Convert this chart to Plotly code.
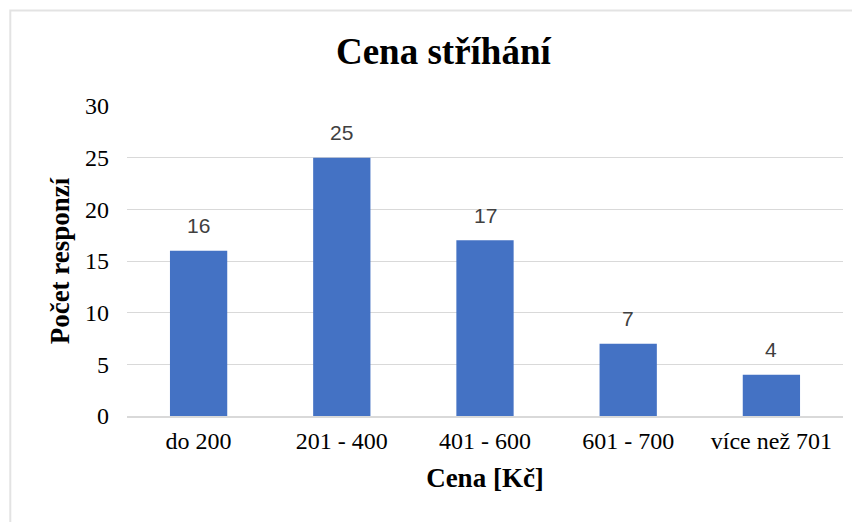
import plotly.graph_objects as go

categories = ["do 200", "201 - 400", "401 - 600", "601 - 700", "více než 701"]
counts = [16, 25, 17, 7, 4]
y_ticks = [0, 5, 10, 15, 20, 25, 30]

serif = "Liberation Serif, Times New Roman, serif"
sans = "Liberation Sans, Arial, sans-serif"

fig = go.Figure()
fig.add_trace(go.Bar(x=categories, y=counts, marker_color="#4472C4", marker_line_width=0,
                     hoverinfo="skip"))

# data labels above bars
for c, v in zip(categories, counts):
    fig.add_annotation(x=c, y=v, text=str(v), showarrow=False, yshift=25,
                       font=dict(family=sans, size=21, color="#404040"))

fig.update_layout(
    width=852, height=514,
    margin=dict(l=119, r=17, t=98, b=106),
    paper_bgcolor="white", plot_bgcolor="white",
    bargap=0.6,
    showlegend=False,
    title=dict(text="<b>Cena stříhání</b>", x=0.511, xanchor="center", y=0.916, yanchor="middle",
               xref="container", font=dict(family=serif, size=37, color="black")),
    xaxis=dict(title=dict(text="<b>Cena [Kč]</b>", standoff=15,
                          font=dict(family=serif, size=27, color="black")),
               tickfont=dict(family=serif, size=24, color="black"),
               showline=True, linecolor="#d9d9d9", linewidth=2, ticks="",
               showgrid=False, ticklabelstandoff=2),
    yaxis=dict(title=dict(text="<b>Počet responzí</b>", standoff=7,
                          font=dict(family=serif, size=27, color="black")),
               tickfont=dict(family=serif, size=24, color="black"),
               range=[0, 30], tickvals=y_ticks, showgrid=True, gridcolor="#d9d9d9",
               gridwidth=1, zeroline=False, ticks="", ticklabelstandoff=17),
)

# chart frame (Excel-like border)
fig.add_shape(type="rect", xref="paper", yref="paper", x0=-0.163, x1=1.2, y0=-0.5, y1=1.308,
              line=dict(color="#e3e3e3", width=2), layer="below")

fig.write_html("out.html")
